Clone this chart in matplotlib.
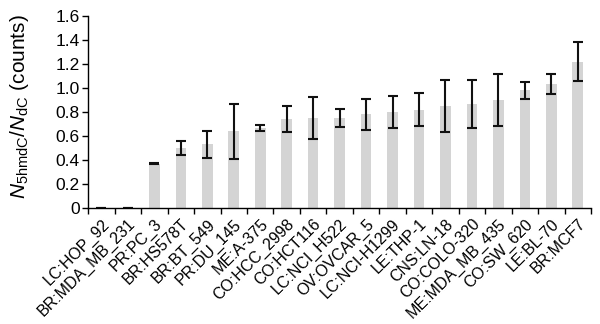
import numpy as np
import matplotlib
matplotlib.use('Agg')
import matplotlib.pyplot as plt

# --- datos ---
lineas = ['LC:HOP_92', 'BR:MDA_MB_231', 'PR:PC_3', 'BR:HS578T', 'BR:BT_549',
          'PR:DU_145', 'ME:A-375', 'CO:HCC_2998', 'CO:HCT116', 'LC:NCI_H522',
          'OV:OVCAR_5', 'LC:NCI-H1299', 'LE:THP-1', 'CNS:LN-18', 'CO:COLO-320',
          'ME:MDA_MB_435', 'CO:SW_620', 'LE:BL-70', 'BR:MCF7']
ratio = [0.0, 0.0, 0.37, 0.50, 0.53, 0.64, 0.67, 0.74, 0.75, 0.75,
         0.78, 0.80, 0.82, 0.85, 0.87, 0.90, 0.98, 1.035, 1.22]
error = [0.0, 0.0, 0.005, 0.06, 0.115, 0.23, 0.025, 0.11, 0.175, 0.075,
         0.13, 0.135, 0.14, 0.22, 0.20, 0.215, 0.07, 0.085, 0.165]

plt.rcParams['font.family'] = ['Liberation Sans', 'DejaVu Sans']
plt.rcParams['mathtext.fontset'] = 'custom'
plt.rcParams['mathtext.rm'] = 'Liberation Sans'
plt.rcParams['mathtext.it'] = 'Liberation Sans:italic'

fig = plt.figure(figsize=(6, 3.24), dpi=100)
ax = fig.add_axes([0.147, 0.358, 0.838, 0.593])

x = np.arange(len(lineas))
ax.bar(x, ratio, width=0.4, color='#d4d4d4', zorder=1)
ax.errorbar(x, ratio, yerr=error, fmt='none', ecolor='#111111',
            elinewidth=1.5, capsize=3.5, capthick=1.5, zorder=2)

ax.set_xlim(-0.5, len(lineas) - 0.5)
ax.set_ylim(0, 1.6)
ax.set_yticks(np.arange(0, 1.61, 0.2))
ax.set_yticklabels(['0'] + ['%.1f' % v for v in np.arange(0.2, 1.61, 0.2)])

# marcas en los bordes de cada categoría, etiquetas en el centro
ax.set_xticks(np.arange(len(lineas) + 1) - 0.5)
ax.set_xticklabels([])
ax.set_xticks(x, minor=True)
ax.set_xticklabels(lineas, minor=True, rotation=45, ha='right',
                   rotation_mode='anchor', fontsize=11.5)
ax.tick_params(axis='x', which='minor', length=0, pad=6)
ax.tick_params(axis='x', which='major', length=4, width=1)
ax.tick_params(axis='y', length=4, width=1, labelsize=12.5, pad=2)

for lado in ['top', 'right']:
    ax.spines[lado].set_visible(False)
ax.spines['left'].set_linewidth(1)
ax.spines['bottom'].set_linewidth(1)

ax.set_ylabel(r'$N_{\mathrm{5hmdC}}/N_{\mathrm{dC}}$ (counts)', fontsize=15)
ax.yaxis.set_label_coords(-0.114, 0.53)

fig.savefig('out.png', dpi=100)
